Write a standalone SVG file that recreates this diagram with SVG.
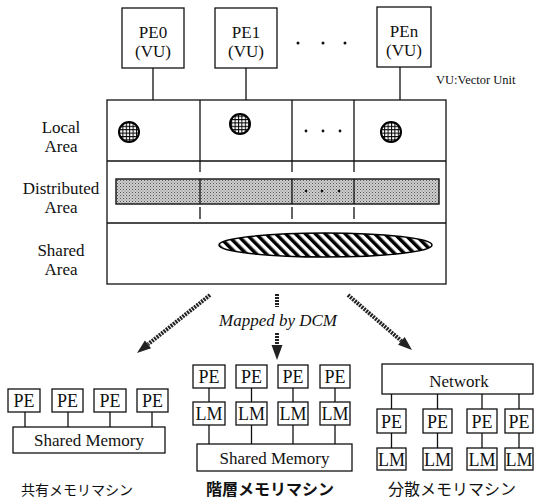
<svg xmlns="http://www.w3.org/2000/svg" width="535" height="502" viewBox="0 0 535 502">
<style>
.bx{fill:#fff;stroke:#111;stroke-width:1.3}
.ln{stroke:#111;stroke-width:1.3;fill:none}
.t{font-family:"Liberation Serif","Times New Roman",serif;fill:#111;text-anchor:middle}
.t17{font-size:17px}
.t18{font-size:18px}
.jp{font-family:"Noto Sans CJK JP",sans-serif;font-size:15px;fill:#111;text-anchor:middle}
.arw{stroke:#222;stroke-width:4;stroke-dasharray:2 1;fill:none}
.ah{fill:#222}
</style>
<defs>
<pattern id="grid" width="3.4" height="3.4" patternUnits="userSpaceOnUse"><rect width="3.4" height="3.4" fill="#fff"/><path d="M0 0.5H3.4M0.5 0V3.4" stroke="#000" stroke-width="1"/></pattern>
<pattern id="hatch" width="7" height="7" patternUnits="userSpaceOnUse" patternTransform="rotate(-45)"><rect width="7" height="7" fill="#fff"/><rect width="3.5" height="7" fill="#000"/></pattern>
<pattern id="stip" width="3" height="3" patternUnits="userSpaceOnUse"><rect width="3" height="3" fill="#cfcfcf"/><rect width="1" height="1" fill="#555"/><rect x="1.5" y="1.5" width="1" height="1" fill="#777"/></pattern>
</defs>

<g id="connectors">
<path class="ln" d="M153 68V100M246 68V100M400 67V100"/>
<path class="ln" d="M25 412V427M68 412V427M110 412V427M152 412V427"/>
<path class="ln" d="M209 388V402M251.5 388V402M293 388V402M335 388V402M209 425V444M251.5 425V444M293 425V444M335 425V444"/>
<path class="ln" d="M391.5 394V409M437.5 394V409M482 394V409M519 394V409M391.5 433V448M437.5 433V448M482 433V448M519 433V448"/>
<line class="arw" x1="210" y1="295" x2="148" y2="344.3"/>
<polygon class="ah" points="137,353 151.1,348.2 144.9,340.4"/>
<line class="arw" x1="348" y1="295" x2="401.4" y2="340.9"/>
<polygon class="ah" points="412,350 398.1,344.7 404.7,337.1"/>
<line class="arw" x1="277" y1="294" x2="277" y2="307"/>
<line class="arw" x1="277" y1="333" x2="277" y2="346"/>
<polygon class="ah" points="271.5,345 282.5,345 277,360"/>
</g>

<g id="pe0"><rect class="bx" x="122" y="8" width="62" height="60"/><text class="t t17" x="153" y="38">PE0</text><text class="t t17" x="153" y="57">(VU)</text></g>
<g id="pe1"><rect class="bx" x="215" y="8" width="62" height="60"/><text class="t t17" x="246" y="38">PE1</text><text class="t t17" x="246" y="57">(VU)</text></g>
<g id="pe-dots"><circle cx="298" cy="43" r="1.5" fill="#111"/><circle cx="323" cy="43" r="1.5" fill="#111"/><circle cx="345" cy="43" r="1.5" fill="#111"/></g>
<g id="pen"><rect class="bx" x="377" y="7" width="54" height="60"/><text class="t t17" x="404" y="37">PEn</text><text class="t t17" x="404" y="56">(VU)</text></g>
<g id="legend"><text class="t" x="436" y="84" style="font-size:12.5px;text-anchor:start">VU:Vector Unit</text></g>

<g id="memory">
<rect class="bx" x="107" y="100" width="339" height="184" stroke-width="1.6"/>
<path class="ln" d="M107 161H446M107 223H446" stroke-width="1.6"/>
<path class="ln" d="M200 100V161M292 100V161M354 100V161"/>
<rect x="116" y="179" width="323" height="25" fill="url(#stip)" stroke="#111" stroke-width="1.4"/>
<path class="ln" d="M200 161V172M200 179V204M200 207V219M292 161V172M292 179V204M292 207V219M354 161V172M354 179V204M354 207V219"/>
<circle cx="129" cy="132" r="10" fill="url(#grid)" stroke="#000" stroke-width="2"/>
<circle cx="240" cy="124" r="10" fill="url(#grid)" stroke="#000" stroke-width="2"/>
<circle cx="391" cy="132" r="10" fill="url(#grid)" stroke="#000" stroke-width="2"/>
<circle cx="306" cy="131" r="1.4" fill="#111"/><circle cx="323" cy="131" r="1.4" fill="#111"/><circle cx="340" cy="131" r="1.4" fill="#111"/>
<circle cx="306" cy="191" r="1.3" fill="#111"/><circle cx="322" cy="191" r="1.3" fill="#111"/><circle cx="339" cy="191" r="1.3" fill="#111"/>
<ellipse cx="325.5" cy="245" rx="106.5" ry="12" fill="url(#hatch)" stroke="#000" stroke-width="1.5"/>
</g>
<g id="labels">
<text class="t t17" x="61" y="133">Local</text><text class="t t17" x="61" y="152">Area</text>
<text class="t t17" x="61" y="194">Distributed</text><text class="t t17" x="61" y="213">Area</text>
<text class="t t17" x="61" y="256">Shared</text><text class="t t17" x="61" y="275">Area</text>
</g>
<g id="mapped"><text class="t t17" x="278" y="326" font-style="italic">Mapped by DCM</text></g>

<g id="shared-machine">
<rect class="bx" x="8" y="389" width="32" height="23"/><text class="t t18" x="24" y="407">PE</text>
<rect class="bx" x="52" y="389" width="31" height="23"/><text class="t t18" x="67.5" y="407">PE</text>
<rect class="bx" x="94" y="389" width="32" height="23"/><text class="t t18" x="110" y="407">PE</text>
<rect class="bx" x="137" y="389" width="31" height="23"/><text class="t t18" x="152.5" y="407">PE</text>
<rect class="bx" x="13" y="427" width="152" height="26"/><text class="t t17" x="89" y="446">Shared Memory</text>
<text class="jp" x="77" y="495" style="font-size:14px">共有メモリマシン</text>
</g>

<g id="hier-machine">
<rect class="bx" x="193" y="365" width="32" height="23"/><text class="t t18" x="209" y="383">PE</text>
<rect class="bx" x="236" y="365" width="31" height="23"/><text class="t t18" x="251.5" y="383">PE</text>
<rect class="bx" x="278" y="365" width="30" height="23"/><text class="t t18" x="293" y="383">PE</text>
<rect class="bx" x="320" y="365" width="30" height="23"/><text class="t t18" x="335" y="383">PE</text>
<rect class="bx" x="193" y="402" width="32" height="23"/><text class="t t18" x="209" y="420">LM</text>
<rect class="bx" x="236" y="402" width="31" height="23"/><text class="t t18" x="251.5" y="420">LM</text>
<rect class="bx" x="278" y="402" width="30" height="23"/><text class="t t18" x="293" y="420">LM</text>
<rect class="bx" x="320" y="402" width="30" height="23"/><text class="t t18" x="335" y="420">LM</text>
<rect class="bx" x="197" y="444" width="155" height="27"/><text class="t t17" x="274.5" y="464">Shared Memory</text>
<text class="jp" x="270" y="495" font-weight="bold" style="font-size:16px">階層メモリマシン</text>
</g>

<g id="dist-machine">
<rect class="bx" x="382" y="364" width="151" height="30"/><text class="t t17" x="459" y="387">Network</text>
<rect class="bx" x="377" y="409" width="29" height="24"/><text class="t t18" x="391.5" y="428">PE</text>
<rect class="bx" x="423" y="409" width="29" height="24"/><text class="t t18" x="437.5" y="428">PE</text>
<rect class="bx" x="467" y="409" width="30" height="24"/><text class="t t18" x="482" y="428">PE</text>
<rect class="bx" x="505" y="409" width="28" height="24"/><text class="t t18" x="519" y="428">PE</text>
<rect class="bx" x="377" y="448" width="29" height="22"/><text class="t t18" x="391.5" y="466">LM</text>
<rect class="bx" x="423" y="448" width="29" height="22"/><text class="t t18" x="437.5" y="466">LM</text>
<rect class="bx" x="467" y="448" width="30" height="22"/><text class="t t18" x="482" y="466">LM</text>
<rect class="bx" x="505" y="448" width="28" height="22"/><text class="t t18" x="519" y="466">LM</text>
<text class="jp" x="452" y="495" style="font-size:16px">分散メモリマシン</text>
</g>
</svg>
